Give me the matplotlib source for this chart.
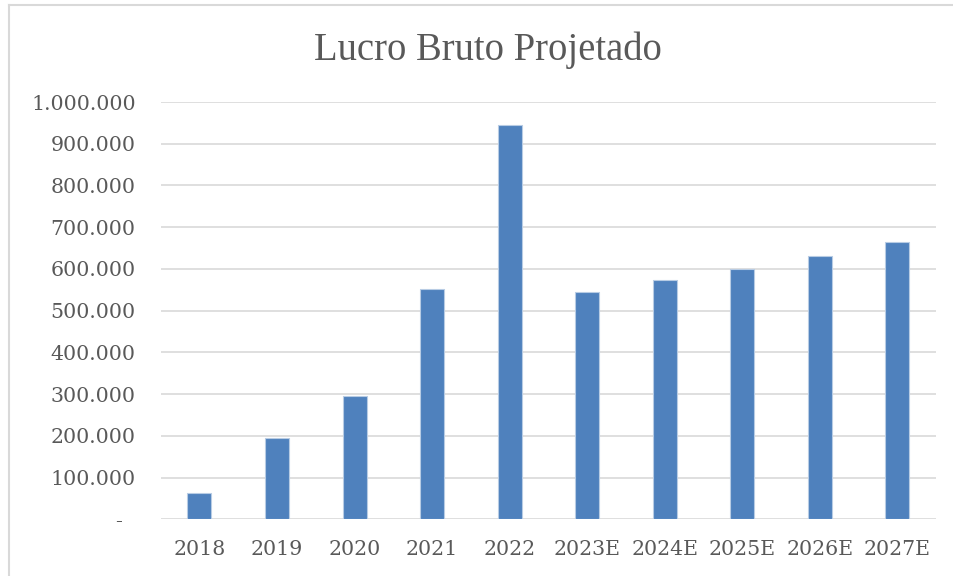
import matplotlib
matplotlib.use("Agg")
import matplotlib.pyplot as plt
from matplotlib.lines import Line2D

categories = ["2018", "2019", "2020", "2021", "2022", "2023E", "2024E", "2025E", "2026E", "2027E"]
values = [64000, 195500, 296000, 551000, 944000, 545500, 572500, 600000, 630000, 664000]
yticks = [0, 100000, 200000, 300000, 400000, 500000, 600000, 700000, 800000, 900000, 1000000]
ytick_labels = ["-  "] + [f"{v:,}".replace(",", ".") for v in yticks[1:]]
title = "Lucro Bruto Projetado"

fig = plt.figure(figsize=(9.54, 5.76), dpi=100)
W, H = 954, 576
ax = fig.add_axes([160.7 / W, 1 - 519.3 / H, (936 - 160.7) / W, (519.3 - 102) / H])

x = list(range(len(categories)))
ax.bar(x, values, width=0.31, color="#4f81bd", edgecolor="#b8cce4", linewidth=0.8, zorder=3)

ax.set_xlim(-0.5, len(categories) - 0.5)
ax.set_ylim(0, 1000000)
ax.set_yticks(yticks)
ax.set_yticklabels(ytick_labels)
ax.set_xticks(x)
ax.set_xticklabels(categories)
ax.grid(axis="y", color="#d9d9d9", linewidth=1.2, zorder=0)
ax.set_axisbelow(True)
for s in ax.spines.values():
    s.set_visible(False)
ax.tick_params(axis="both", length=0, colors="#595959", labelsize=14.8)
ax.tick_params(axis="y", pad=18)
ax.tick_params(axis="x", pad=14.6)
for lab in ax.get_xticklabels() + ax.get_yticklabels():
    lab.set_fontfamily("DejaVu Serif")

fig.text(488 / W, 1 - 50 / H, title, ha="center", va="center",
         fontsize=27.8, family="Liberation Serif", color="#595959")

# outer chart border (left and top visible)
fig.add_artist(Line2D([9 / W, 9 / W], [0, 1 - 5 / H], transform=fig.transFigure, color="#d9d9d9", linewidth=1.5))
fig.add_artist(Line2D([9 / W, 1], [1 - 5 / H, 1 - 5 / H], transform=fig.transFigure, color="#d9d9d9", linewidth=1.5))

fig.savefig("out.png", dpi=100)
